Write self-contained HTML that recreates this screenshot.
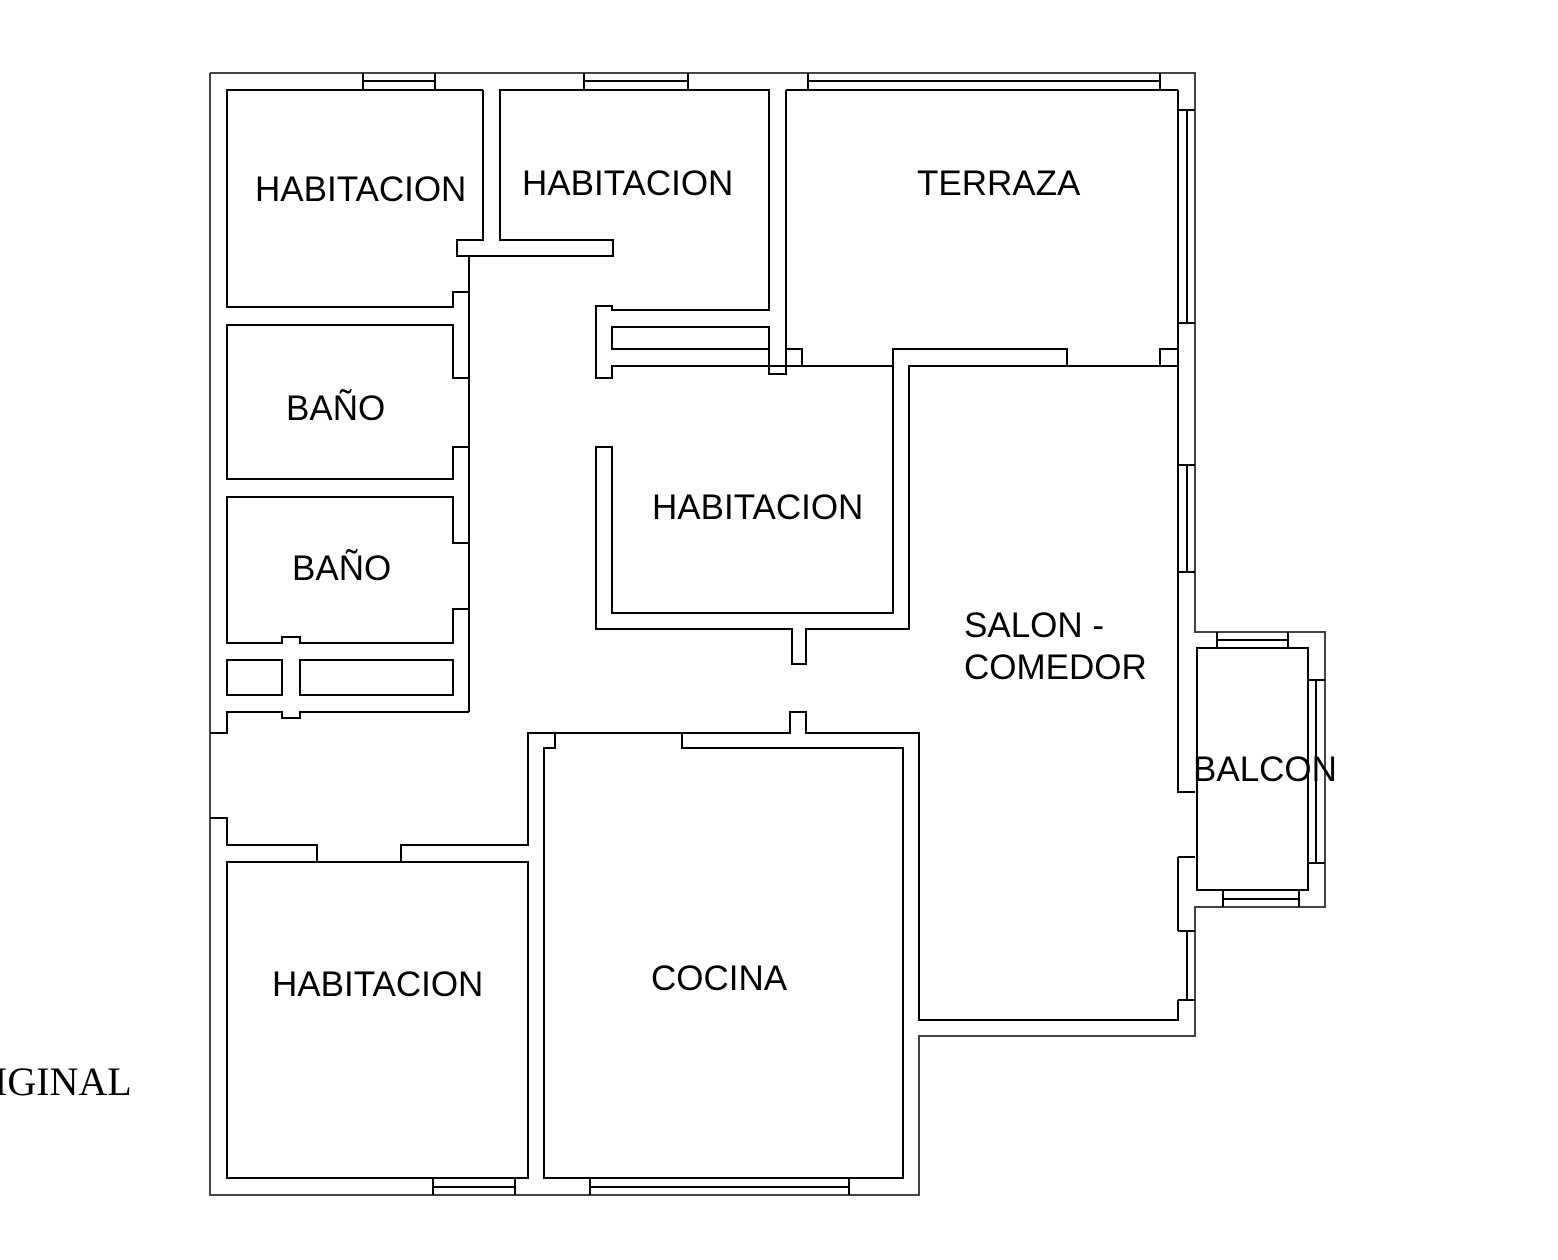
<!DOCTYPE html>
<html><head><meta charset="utf-8"><style>
html,body{margin:0;padding:0;background:#fff;width:1558px;height:1260px;overflow:hidden}
svg{display:block}
text{font-family:"Liberation Sans",Arial,sans-serif;font-size:35px;fill:#000}
</style></head><body>
<svg width="1558" height="1260" viewBox="0 0 1558 1260" xmlns="http://www.w3.org/2000/svg">
<g fill="none" stroke="#000" stroke-width="2">
<polyline points="210,73 1195,73 1195,632 1325,632 1325,907 1195,907 1195,1036 919,1036 919,1195 210,1195 210,73" stroke="#444"/>
<path d="M363,73V90M435,73V90M363,81H435M584,73V90M688,73V90M584,81H688M808,73V90M1160,73V90M808,81H1160"/>
<path d="M1178,110H1195M1178,323H1195M1187,110V323M1178,465H1195M1178,572H1195M1187,465V572M1178,931H1195M1178,1000H1195M1187,931V1000"/>
<rect x="1197" y="648" width="111" height="242"/>
<path d="M1217,632V648M1288,632V648M1217,640H1288M1308,680H1325M1308,863H1325M1316,680V863M1223,890V907M1299,890V907M1223,899H1299"/>
<polyline points="483,90 227,90 227,307 453,307 453,292 469,292"/>
<polyline points="483,90 483,240 457,240 457,256 613,256 613,240 500,240 500,90 769,90 769,310 612,310 612,306 596,306 596,378 612,378 612,366 893,366 893,613 612,613 612,447 596,447 596,629 792,629 792,664 806,664 806,629 909,629 909,366 1178,366 1178,792 1195,792"/>
<line x1="469" y1="256" x2="469" y2="712"/>
<polyline points="469,378 453,378 453,325 227,325 227,479 453,479 453,447 469,447"/>
<polyline points="469,543 453,543 453,497 227,497 227,643 282,643 282,637 300,637 300,643 453,643 453,609 469,609"/>
<rect x="227" y="660" width="55" height="35"/>
<rect x="300" y="660" width="153" height="35"/>
<polyline points="469,712 300,712 300,718 282,718 282,712 227,712 227,733 210,733"/>
<polyline points="210,818 227,818 227,845 317,845 317,862"/>
<polyline points="401,862 401,845 528,845 528,733 790,733 790,712 806,712 806,733 919,733 919,1020 1178,1020 1178,1000"/>
<line x1="1178" y1="857" x2="1178" y2="931"/>
<polyline points="1178,857 1195,857"/>
<rect x="227" y="862" width="301" height="316"/>
<polyline points="555,733 555,748 544,748 544,1178 903,1178 903,748 682,748 682,733"/>
<path d="M433,1178V1195M515,1178V1195M433,1187H515M590,1178V1195M849,1178V1195M590,1187H849"/>
<rect x="612" y="327" width="157" height="22"/>
<polyline points="769,349 769,374 786,374 786,349 802,349 802,366"/>
<line x1="786" y1="90" x2="786" y2="349"/>
<line x1="786" y1="90" x2="1178" y2="90"/>
<line x1="1178" y1="90" x2="1178" y2="366"/>
<polyline points="893,366 893,349 1067,349 1067,366"/>
<polyline points="1160,366 1160,349 1178,349"/>
</g>
<text x="255" y="201">HABITACION</text>
<text x="522" y="195">HABITACION</text>
<text x="917" y="195">TERRAZA</text>
<text x="286" y="420">BAÑO</text>
<text x="292" y="580">BAÑO</text>
<text x="652" y="519">HABITACION</text>
<text x="964" y="637">SALON -</text>
<text x="964" y="679">COMEDOR</text>
<text x="1193" y="781">BALCON</text>
<text x="272" y="996">HABITACION</text>
<text x="651" y="990">COCINA</text>
<text x="-6" y="1095" style="font-family:'Liberation Serif',serif;font-size:40px">IGINAL</text>
</svg>
</body></html>
